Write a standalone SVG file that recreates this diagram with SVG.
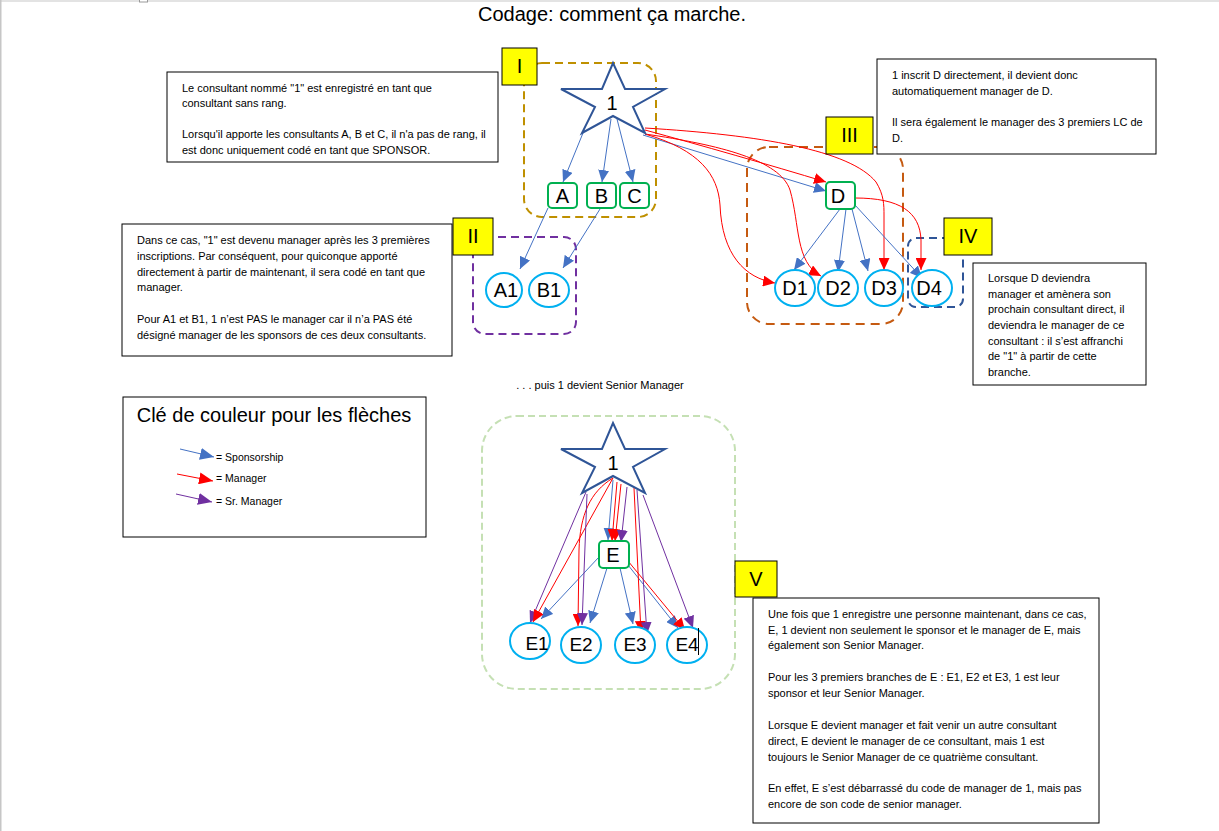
<svg xmlns="http://www.w3.org/2000/svg" width="1219" height="831" viewBox="0 0 1219 831">
<style>
.txt{font-family:"Liberation Sans",Arial,sans-serif;font-size:11px;fill:#000}
.lbl{font-family:"Liberation Sans",Arial,sans-serif;font-size:20px;fill:#000;text-anchor:middle}
.box{fill:#fff;stroke:#000;stroke-width:1}
.tag{fill:#FFFF00;stroke:#000;stroke-width:1}
.sq{fill:#fff;stroke:#00B050;stroke-width:2}
.ov{fill:#fff;stroke:#00B0F0;stroke-width:2}
.star{fill:#fff;stroke:#2F5597;stroke-width:2;stroke-linejoin:miter}
.sp{fill:none;stroke:#4472C4;stroke-width:1;marker-end:url(#mb)}
.mg{fill:none;stroke:#FF0000;stroke-width:1;marker-end:url(#mr)}
.sm{fill:none;stroke:#7030A0;stroke-width:1;marker-end:url(#mp)}
</style>
<defs>
<marker id="mb" viewBox="0 0 12 11" refX="12" refY="5.5" markerWidth="12" markerHeight="11" markerUnits="userSpaceOnUse" orient="auto"><path d="M0,0 L12,5.5 L0,11 z" fill="#4472C4"/></marker>
<marker id="mr" viewBox="0 0 12 11" refX="12" refY="5.5" markerWidth="12" markerHeight="11" markerUnits="userSpaceOnUse" orient="auto"><path d="M0,0 L12,5.5 L0,11 z" fill="#FF0000"/></marker>
<marker id="mp" viewBox="0 0 12 11" refX="12" refY="5.5" markerWidth="12" markerHeight="11" markerUnits="userSpaceOnUse" orient="auto"><path d="M0,0 L12,5.5 L0,11 z" fill="#7030A0"/></marker>
<marker id="lb" viewBox="0 0 14 12" refX="14" refY="6" markerWidth="14" markerHeight="12" markerUnits="userSpaceOnUse" orient="auto"><path d="M0,0 L14,6 L0,12 z" fill="#4472C4"/></marker>
<marker id="lr" viewBox="0 0 14 12" refX="14" refY="6" markerWidth="14" markerHeight="12" markerUnits="userSpaceOnUse" orient="auto"><path d="M0,0 L14,6 L0,12 z" fill="#FF0000"/></marker>
<marker id="lp" viewBox="0 0 14 12" refX="14" refY="6" markerWidth="14" markerHeight="12" markerUnits="userSpaceOnUse" orient="auto"><path d="M0,0 L14,6 L0,12 z" fill="#7030A0"/></marker>
<path id="starShape" d="M0,-37 L12,-11 L52,-11 L20,7 L32,33 L0,16 L-31,33 L-18,7 L-52,-11 L-11,-11 Z"/>
<clipPath id="clip1"><rect x="167" y="72" width="331" height="83.5"/></clipPath>
</defs>
<rect x="0" y="0" width="1219" height="831" fill="#fff"/>
<rect x="0" y="0" width="1219" height="2" fill="#E3E3E3"/>
<rect x="0" y="0" width="1.5" height="831" fill="#C6C6C6"/>
<rect x="139.5" y="-3" width="8" height="5" fill="#fff" stroke="#999" stroke-width="1"/>

<text x="612" y="21" class="lbl" style="font-size:20px">Codage: comment ça marche.</text>

<!-- group boxes -->
<g id="groups" fill="none" stroke-width="2">
<rect x="524" y="63" width="132" height="154" rx="18" stroke="#BF9000" stroke-dasharray="8 5"/>
<rect x="473" y="237" width="103" height="97" rx="12" stroke="#7030A0" stroke-dasharray="8 5"/>
<rect x="747" y="147" width="156" height="177" rx="22" stroke="#C55A11" stroke-dasharray="9 6"/>
<rect x="908" y="238" width="55" height="69" rx="8" stroke="#2F5597" stroke-dasharray="8 5"/>
<rect x="482" y="416" width="253" height="273" rx="35" stroke="#C5E0B4" stroke-dasharray="7 4"/>
</g>

<!-- connectors -->
<g id="connectors">
<path class="sp" d="M583,133 L563,182"/>
<path class="sp" d="M611,119 L602,182"/>
<path class="sp" d="M617,119 L633,182"/>
<path class="sp" d="M548,208 L520,269"/>
<path class="sp" d="M600,209 L563,268"/>
<path class="sp" d="M643,135 L826,191"/>
<path class="mg" d="M645,130 C700,145 770,165 826,182"/>
<path class="mg" d="M645,134 C700,150 718,175 720,205 C722,255 745,278 775,283"/>
<path class="mg" d="M645,134 C720,145 780,160 790,190 C800,225 795,262 821,276"/>
<path class="mg" d="M645,128 C760,135 850,150 876,182 C884,195 884,205 884,215 L884,270"/>
<path class="sp" d="M840,209 L794,270"/>
<path class="sp" d="M846,209 L838,272"/>
<path class="sp" d="M852,209 L868,271"/>
<path class="sp" d="M855,205 L922,278"/>
<path class="mg" d="M855,198 C900,198 920,212 921,240 L921,270"/>

<path class="sp" d="M613,480 L608,540"/>
<path class="mg" d="M617,482 L612,541"/>
<path class="mg" d="M621,484 L615,541"/>
<path class="sm" d="M627,487 L621,542"/>
<path class="sp" d="M599,557 L541,619"/>
<path class="sp" d="M607,568 L590,623"/>
<path class="sp" d="M620,568 L633,624"/>
<path class="sp" d="M628,565 L678,628"/>
<path class="mg" d="M628,561 L685,630"/>
<path class="sm" d="M586,492 L530,623"/>
<path class="mg" d="M613,478 L533,622"/>
<path class="mg" d="M613,478 C590,492 580,515 579,550 L578,626"/>
<path class="sm" d="M587,494 L582,625"/>
<path class="mg" d="M634,488 L641,633"/>
<path class="sm" d="M637,490 L647,634"/>
<path class="sm" d="M643,495 L693,628"/>
</g>

<!-- nodes -->
<g id="star1"><use href="#starShape" x="613" y="100" class="star"/><text x="612" y="110" class="lbl">1</text></g>
<g id="nodeA"><rect x="548" y="183" width="29" height="25" rx="4" class="sq"/><text x="562.5" y="203" class="lbl">A</text></g>
<g id="nodeB"><rect x="587" y="183" width="29" height="25" rx="4" class="sq"/><text x="601.5" y="203" class="lbl">B</text></g>
<g id="nodeC"><rect x="620" y="183" width="29" height="25" rx="4" class="sq"/><text x="634.5" y="203" class="lbl">C</text></g>
<g id="nodeA1"><ellipse cx="504" cy="290" rx="18" ry="17" class="ov"/><text x="506" y="297" class="lbl">A1</text></g>
<g id="nodeB1"><ellipse cx="549" cy="290" rx="20" ry="17" class="ov"/><text x="549" y="297" class="lbl">B1</text></g>
<g id="nodeD"><rect x="826" y="182" width="29" height="27" rx="4" class="sq"/><text x="838" y="203" class="lbl">D</text></g>
<g id="nodeD1"><ellipse cx="795" cy="288" rx="20" ry="18" class="ov"/><text x="795" y="295" class="lbl">D1</text></g>
<g id="nodeD2"><ellipse cx="838" cy="288" rx="20" ry="18" class="ov"/><text x="838" y="295" class="lbl">D2</text></g>
<g id="nodeD3"><ellipse cx="884" cy="288" rx="19" ry="18" class="ov"/><text x="884" y="295" class="lbl">D3</text></g>
<g id="nodeD4"><ellipse cx="932" cy="288" rx="20" ry="18" class="ov"/><text x="929" y="295" class="lbl">D4</text></g>

<g id="star2"><use href="#starShape" x="613" y="460" class="star"/><text x="613" y="470" class="lbl">1</text></g>
<g id="nodeE"><rect x="599" y="541" width="30" height="27" rx="4" class="sq"/><text x="613" y="562" class="lbl">E</text></g>
<g id="nodeE1"><ellipse cx="530" cy="641" rx="20" ry="18" class="ov"/><text x="537" y="650" class="lbl" style="font-size:19px">E1</text></g>
<g id="nodeE2"><ellipse cx="581" cy="645" rx="20" ry="18" class="ov"/><text x="581" y="651" class="lbl" style="font-size:19px">E2</text></g>
<g id="nodeE3"><ellipse cx="635" cy="645" rx="20" ry="18" class="ov"/><text x="635" y="651" class="lbl" style="font-size:19px">E3</text></g>
<g id="nodeE4"><ellipse cx="687" cy="645" rx="20" ry="18" class="ov"/><text x="687" y="651" class="lbl" style="font-size:19px">E4</text></g>
<line x1="698.5" y1="628" x2="698.5" y2="655" stroke="#000" stroke-width="1"/>

<!-- text boxes -->
<g id="note1">
<rect x="167" y="72" width="331" height="90" class="box"/>
<text class="txt" clip-path="url(#clip1)"><tspan x="182" y="91.5">Le consultant nommé "1" est enregistré en tant que</tspan><tspan x="182" y="107">consultant sans rang.</tspan><tspan x="182" y="138">Lorsqu'il apporte les consultants A, B et C, il n'a pas de rang, il</tspan><tspan x="182" y="153.5">est donc uniquement codé en tant que SPONSOR.</tspan></text>
</g>
<g id="tagI"><rect x="502" y="48" width="35" height="37" class="tag"/><text x="519.5" y="73" class="lbl">I</text></g>

<g id="note2">
<rect x="122" y="224" width="330" height="132" class="box"/>
<text class="txt"><tspan x="137" y="244">Dans ce cas, "1" est devenu manager après les 3 premières</tspan><tspan x="137" y="260">inscriptions. Par conséquent, pour quiconque apporté</tspan><tspan x="137" y="275.5">directement à partir de maintenant, il sera codé en tant que</tspan><tspan x="137" y="291">manager.</tspan><tspan x="137" y="322.5">Pour A1 et B1, 1 n’est PAS le manager car il n’a PAS été</tspan><tspan x="137" y="338.5">désigné manager de les sponsors de ces deux consultants.</tspan></text>
</g>
<g id="tagII"><rect x="453" y="218" width="40" height="37" class="tag"/><text x="473" y="243" class="lbl">II</text></g>

<g id="note3">
<rect x="877" y="59" width="279" height="95" class="box"/>
<text class="txt"><tspan x="892" y="78.5">1 inscrit D directement, il devient donc</tspan><tspan x="892" y="95">automatiquement manager de D.</tspan><tspan x="892" y="126">Il sera également le manager des 3 premiers LC de</tspan><tspan x="892" y="141.5">D.</tspan></text>
</g>
<g id="tagIII"><rect x="826" y="117" width="47" height="37" class="tag"/><text x="849.5" y="142" class="lbl">III</text></g>

<g id="note4">
<rect x="973" y="263" width="173" height="122" class="box"/>
<text class="txt"><tspan x="988" y="282">Lorsque D deviendra</tspan><tspan x="988" y="297.5">manager et amènera son</tspan><tspan x="988" y="313">prochain consultant direct, il</tspan><tspan x="988" y="329">deviendra le manager de ce</tspan><tspan x="988" y="344.5">consultant : il s’est affranchi</tspan><tspan x="988" y="360">de "1" à partir de cette</tspan><tspan x="988" y="375.5">branche.</tspan></text>
</g>
<g id="tagIV"><rect x="944" y="218" width="48" height="37" class="tag"/><text x="968" y="243" class="lbl">IV</text></g>

<text x="600" y="389" class="txt" text-anchor="middle">. . . puis 1 devient Senior Manager</text>

<g id="legend">
<rect x="123" y="397" width="303" height="140" class="box"/>
<text x="274" y="422" class="lbl">Clé de couleur pour les flèches</text>
<line x1="180" y1="449" x2="214" y2="457" stroke="#4472C4" stroke-width="1" marker-end="url(#lb)"/>
<line x1="177" y1="474" x2="213" y2="481" stroke="#FF0000" stroke-width="1" marker-end="url(#lr)"/>
<line x1="176" y1="494" x2="212" y2="502" stroke="#7030A0" stroke-width="1" marker-end="url(#lp)"/>
<text class="txt" style="font-size:10.5px"><tspan x="216" y="461">= Sponsorship</tspan><tspan x="216" y="482">= Manager</tspan><tspan x="216" y="505">= Sr. Manager</tspan></text>
</g>

<g id="note5">
<rect x="753" y="598" width="346" height="225" class="box"/>
<text class="txt"><tspan x="768" y="617.5">Une fois que 1 enregistre une personne maintenant, dans ce cas,</tspan><tspan x="768" y="633.5">E, 1 devient non seulement le sponsor et le manager de E, mais</tspan><tspan x="768" y="649">également son Senior Manager.</tspan><tspan x="768" y="681">Pour les 3 premiers branches de E : E1, E2 et E3, 1 est leur</tspan><tspan x="768" y="697">sponsor et leur Senior Manager.</tspan><tspan x="768" y="728.5">Lorsque E devient manager et fait venir un autre consultant</tspan><tspan x="768" y="744.5">direct, E devient le manager de ce consultant, mais 1 est</tspan><tspan x="768" y="760.5">toujours le Senior Manager de ce quatrième consultant.</tspan><tspan x="768" y="792">En effet, E s’est débarrassé du code de manager de 1, mais pas</tspan><tspan x="768" y="808">encore de son code de senior manager.</tspan></text>
</g>
<g id="tagV"><rect x="735" y="561" width="42" height="36" class="tag"/><text x="756" y="586" class="lbl">V</text></g>
</svg>
